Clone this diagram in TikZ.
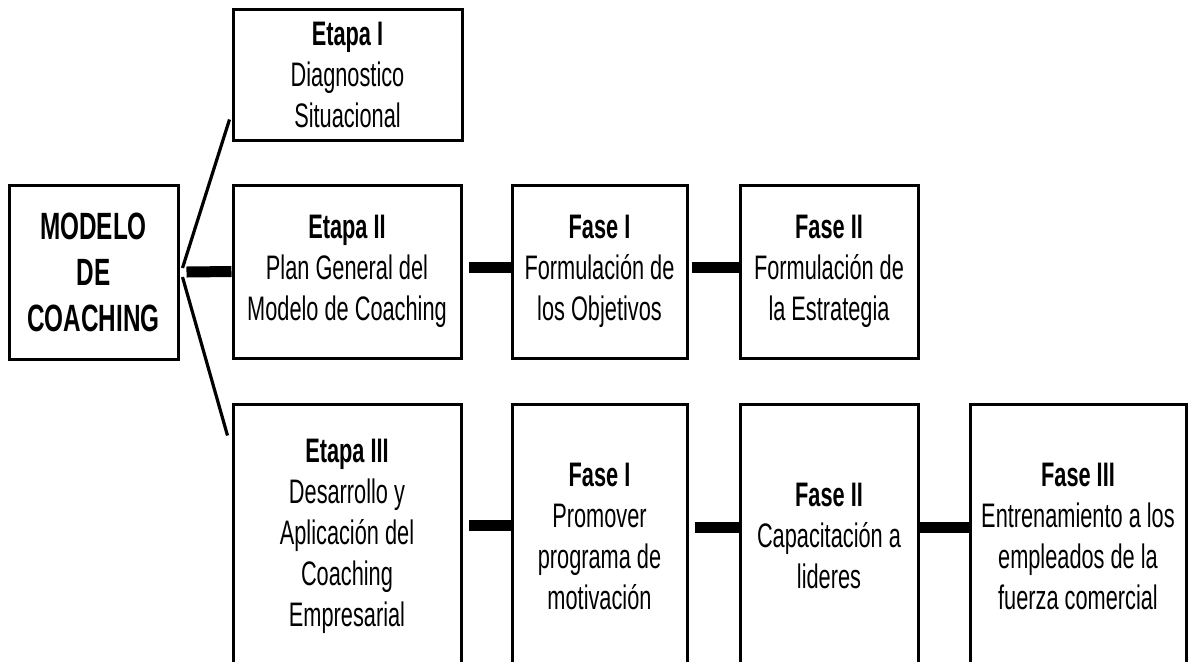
\documentclass[tikz,border=0pt]{standalone}
\usepackage{fontspec}
\setmainfont{Liberation Sans}[FakeStretch=0.64]
\begin{document}
\begin{tikzpicture}[x=0.5pt, y=-0.5pt, line join=miter,
	caja/.style={draw, line width=1.5pt, align=center, inner sep=0pt,
		font=\fontsize{17}{20.5}\selectfont},
	barra/.style={line width=5.5pt},
	rama/.style={line width=1.6pt}]
	\useasboundingbox (0,0) rectangle (1191,661);
	\clip (0,0) rectangle (1191,661);
	% raiz
	\node[caja, minimum width=84.5pt, minimum height=87pt,
		font=\fontsize{19}{23}\selectfont\bfseries] (modelo) at (93.5,272) {MODELO\\DE\\COACHING};
	% etapas
	\node[caja, minimum width=114.5pt, minimum height=65.5pt] (etapaI) at (347.5,74.5)
		{\textbf{Etapa I}\\Diagnostico\\Situacional};
	\node[caja, minimum width=114pt, minimum height=86.5pt] (etapaII) at (347,271.5)
		{\textbf{Etapa II}\\Plan General del\\Modelo de Coaching};
	\node[caja, minimum width=114pt, minimum height=132pt] (etapaIII) at (347,536)
		{\textbf{Etapa III}\\Desarrollo y\\Aplicación del\\Coaching\\Empresarial};
	% fases de la etapa II
	\node[caja, minimum width=87.5pt, minimum height=86.5pt] (faseIa) at (599.5,271.5)
		{\textbf{Fase I}\\Formulación de\\los Objetivos};
	\node[caja, minimum width=89pt, minimum height=86.5pt] (faseIIa) at (829,271.5)
		{\textbf{Fase II}\\Formulación de\\la Estrategia};
	% fases de la etapa III
	\node[caja, minimum width=87.5pt, minimum height=132pt] (faseIb) at (599.5,536)
		{\textbf{Fase I}\\Promover\\programa de\\motivación};
	\node[caja, minimum width=89pt, minimum height=132pt] (faseIIb) at (829,536)
		{\textbf{Fase II}\\Capacitación a\\lideres};
	\node[caja, minimum width=108pt, minimum height=132pt] (faseIIIb) at (1078,536)
		{\textbf{Fase III}\\Entrenamiento a los\\empleados de la\\fuerza comercial};
	% ramas
	\draw[rama] ([xshift=1.5pt,yshift=2pt]modelo.east) -- ([xshift=-1pt,yshift=11pt]etapaI.south west);
	\draw[rama] ([xshift=1.5pt,yshift=-2.5pt]modelo.east) -- ([xshift=-2pt,yshift=-16.5pt]etapaIII.north west);
	% barras
	\foreach \a/\b/\dx/\dy in {modelo/etapaII/3.5/0, etapaII/faseIa/3/2, faseIa/faseIIa/1.5/2,
		etapaIII/faseIb/3/5.5, faseIb/faseIIb/3/4.5, faseIIb/faseIIIb/0/4.5}
		\draw[barra] ([xshift=\dx pt,yshift=\dy pt]\a.east) -- ([yshift=\dy pt]\b.west);
\end{tikzpicture}
\end{document}
